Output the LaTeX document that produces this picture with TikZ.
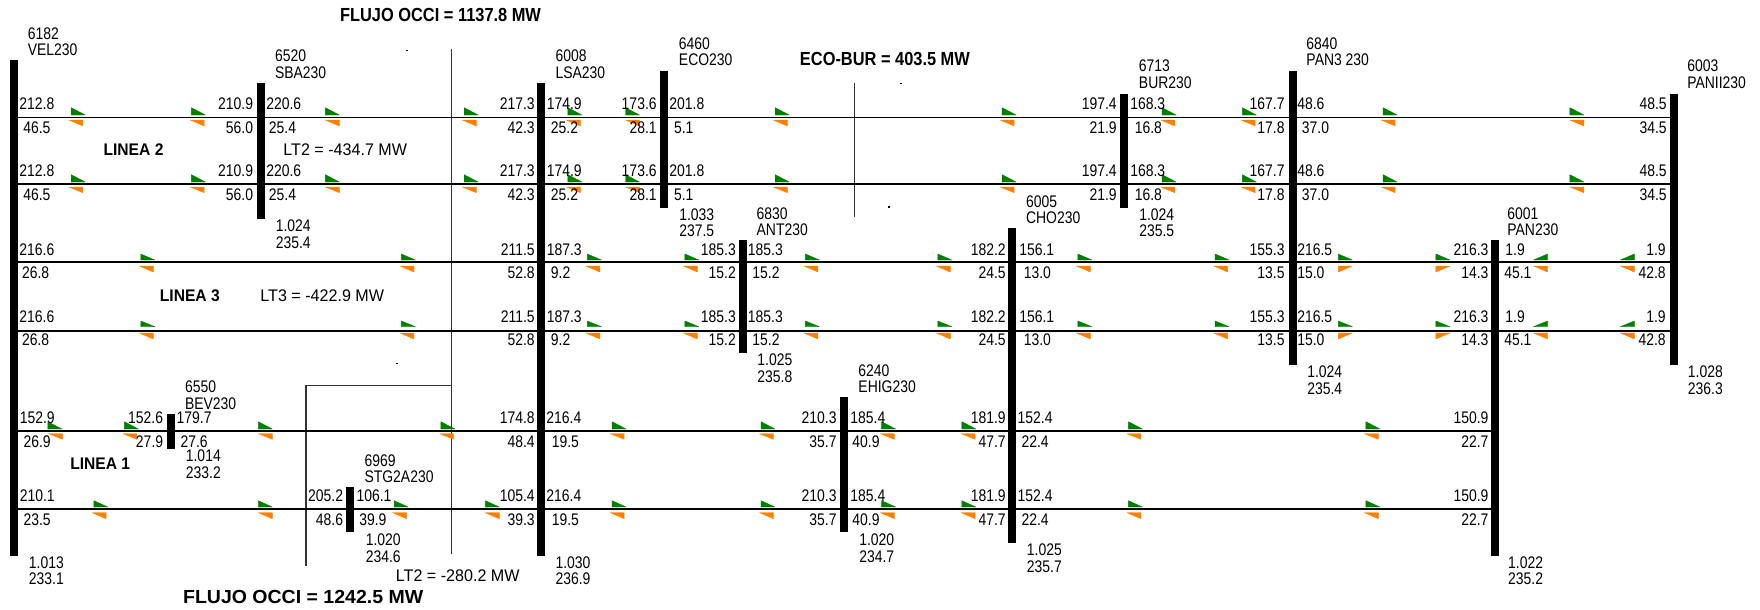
\documentclass[tikz,border=0pt]{standalone}
\usepackage{fontspec}
\setmainfont[FakeStretch=0.83]{Liberation Sans}
\newfontfamily\fnote[FakeStretch=0.958]{Liberation Sans}
\newfontfamily\fline[FakeStretch=0.93]{Liberation Sans}
\newfontfamily\ftop[FakeStretch=0.866]{Liberation Sans}
\newfontfamily\fbot[FakeStretch=1.03]{Liberation Sans}
\newcounter{lc}
\definecolor{orangeflow}{RGB}{255,128,0}
\definecolor{greenflow}{RGB}{0,128,0}
\tikzset{
  bus/.style={draw=none,fill=black,rectangle,inner sep=0pt,minimum width=6pt},
  tline/.style={draw=black,line width=1.2pt},
  cutline/.style={draw=black!80,line width=0.8pt},
  lab/.style={inner sep=0pt,font=\fontsize{12.6}{12.6}\selectfont},
  notelab/.style={inner sep=0pt,font=\fontsize{12.6}{12.6}\fnote\selectfont},
  blab/.style={inner sep=0pt,font=\fontsize{12.6}{12.6}\fline\bfseries\selectfont},
  tlab/.style={inner sep=0pt,font=\fontsize{14.2}{14.2}\ftop\bfseries\selectfont},
  tlabwide/.style={inner sep=0pt,font=\fontsize{14.2}{14.2}\fbot\bfseries\selectfont},
  gflow/.style={fill=greenflow,draw=greenflow,line width=0.3pt,line join=round},
  oflow/.style={fill=orangeflow,draw=orangeflow,line width=0.3pt,line join=round},
}
\newcommand\busnode[4]{\node[bus,minimum height={(#4-#3)*0.75pt}] (#1) at (#2,{(#3+#4)/2}) {};}
\newcommand\tw[3]{\stepcounter{lc}\node[lab,anchor=base west] (t\thelc) at (#1,#2) {#3};}
\newcommand\te[3]{\stepcounter{lc}\node[lab,anchor=base east] (t\thelc) at (#1,#2) {#3};}
\newcommand\twol[5]{\tw{#1}{#2}{#4}\tw{#1}{#3}{#5}}
% flows: green left / orange left; gt gb ot ob
\newcommand\flows[5]{\foreach \g/\o in {#5}{%
  \path[gflow] (\g,#1) -- (\g,#2) -- (\g+14,#2) -- cycle;
  \path[oflow] (\o,#3) -- (\o+14,#3) -- (\o+14,#4) -- cycle;}}
\newcommand\rowtop[2]{%
  \tw{19.1}{#1}{212.8}\te{253.3}{#1}{210.9}\tw{266}{#1}{220.6}\te{535}{#1}{217.3}\tw{546.5}{#1}{174.9}\te{656.9}{#1}{173.6}\tw{669.2}{#1}{201.8}\te{1116.9}{#1}{197.4}\tw{1130}{#1}{168.3}\te{1284.8}{#1}{167.7}\tw{1297}{#1}{48.6}\te{1667}{#1}{48.5}%
  \tw{23}{#2}{46.5}\te{253.3}{#2}{56.0}\tw{268.7}{#2}{25.4}\te{535}{#2}{42.3}\tw{550.7}{#2}{25.2}\te{656.9}{#2}{28.1}\tw{673.8}{#2}{5.1}\te{1116.9}{#2}{21.9}\tw{1134.5}{#2}{16.8}\te{1284.8}{#2}{17.8}\tw{1301.6}{#2}{37.0}\te{1667}{#2}{34.5}}
\newcommand\rowmid[2]{%
  \tw{19.1}{#1}{216.6}\te{535}{#1}{211.5}\tw{546.5}{#1}{187.3}\te{736.1}{#1}{185.3}\tw{747.6}{#1}{185.3}\te{1005.9}{#1}{182.2}\tw{1019}{#1}{156.1}\te{1284.8}{#1}{155.3}\tw{1297}{#1}{216.5}\te{1488.7}{#1}{216.3}\tw{1505.2}{#1}{1.9}\te{1665.9}{#1}{1.9}%
  \tw{21.8}{#2}{26.8}\te{535}{#2}{52.8}\tw{550.7}{#2}{9.2}\te{736.1}{#2}{15.2}\tw{752.2}{#2}{15.2}\te{1005.9}{#2}{24.5}\tw{1023.5}{#2}{13.0}\te{1284.8}{#2}{13.5}\tw{1297}{#2}{15.0}\te{1488.7}{#2}{14.3}\tw{1504}{#2}{45.1}\te{1665.9}{#2}{42.8}}
\newcommand\rowlowcommon[2]{%
  \tw{546.1}{#1}{216.4}\te{836.8}{#1}{210.3}\tw{850.2}{#1}{185.4}\te{1005.9}{#1}{181.9}\tw{1017.4}{#1}{152.4}\te{1488.7}{#1}{150.9}%
  \tw{551.5}{#2}{19.5}\te{836.8}{#2}{35.7}\tw{852.1}{#2}{40.9}\te{1005.9}{#2}{47.7}\tw{1021.3}{#2}{22.4}\te{1488.7}{#2}{22.7}}
\newcommand\midflows[4]{%
  \flows{#1}{#2}{#3}{#4}{140.8/139.3,401.4/400,587.4/585.9,684.9/683.3,805.4/803.9,937.8/936.3,1077.9/1076.4,1215.1/1213.6}
  % orange with vertical left edge
  \foreach \x in {1338.3,1435.9}{%
    \path[gflow] (\x,#1) -- (\x,#2) -- (\x+14,#2) -- cycle;
    \path[oflow] (\x,#3) -- (\x+14,#3) -- (\x,#4) -- cycle;}
  % green with vertical right edge
  \foreach \x in {1533.5,1620.4}{%
    \path[gflow] (\x+14,#1) -- (\x+14,#2) -- (\x,#2) -- cycle;
    \path[oflow] (\x,#3) -- (\x+14,#3) -- (\x+14,#4) -- cycle;}}
\begin{document}
\begin{tikzpicture}[x=0.75pt,y=-0.75pt]
\useasboundingbox (0,0) rectangle (1760,610);
% buses
\busnode{vel}{13.8}{60}{555.7}
\busnode{sba}{260.6}{83}{218.7}
\busnode{lsa}{540.8}{83}{555.7}
\busnode{eco}{664.2}{71}{207.7}
\busnode{bur}{1124.2}{93.7}{207.7}
\busnode{ant}{743.4}{240}{352.7}
\busnode{cho}{1012.4}{228}{543.3}
\busnode{ehig}{843.7}{397}{532.3}
\busnode{bev}{170.7}{413.7}{448.7}
\busnode{stg}{350.2}{487}{532.3}
\busnode{panc}{1292.8}{71}{364.7}
\busnode{pan}{1494.5}{240}{555.7}
\busnode{panii}{1673.6}{93.7}{364.7}
% row heights
\coordinate (r1) at (0,117.3);
\coordinate (r2) at (0,184);
\coordinate (r3) at (0,262);
\coordinate (r4) at (0,330.7);
\coordinate (r5) at (0,431);
\coordinate (r6) at (0,509);
% cut lines
\coordinate (ca) at (451.2,49.3);
\coordinate (cb) at (451.2,554);
\coordinate (cc) at (451.2,385.7);
\coordinate (cd) at (306,385.7);
\coordinate (ce) at (306,565.7);
\coordinate (cf) at (854.8,83);
\coordinate (cg) at (854.8,216.7);
\draw[cutline] (ca) -- (cb);
\draw[cutline] (cc) -- (cd) -- (ce);
\draw[cutline] (cf) -- (cg);
\fill[black] (406.4,49.6) rectangle (408.4,51);
\fill[black] (899.7,83) rectangle (901.7,84.4);
\fill[black] (887.5,206.4) rectangle (889.5,207.8);
\fill[black] (395.5,363) rectangle (397.5,364.4);
% transmission lines
\foreach \r in {r1,r2}{
  \draw[tline] (vel |- \r) -- (sba |- \r);
  \draw[tline] (sba |- \r) -- (lsa |- \r);
  \draw[tline] (lsa |- \r) -- (eco |- \r);
  \draw[tline] (eco |- \r) -- (bur |- \r);
  \draw[tline] (bur |- \r) -- (panc |- \r);
  \draw[tline] (panc |- \r) -- (panii |- \r);
}
\foreach \r in {r3,r4}{
  \draw[tline] (vel |- \r) -- (lsa |- \r);
  \draw[tline] (lsa |- \r) -- (ant |- \r);
  \draw[tline] (ant |- \r) -- (cho |- \r);
  \draw[tline] (cho |- \r) -- (panc |- \r);
  \draw[tline] (panc |- \r) -- (pan |- \r);
  \draw[tline] (pan |- \r) -- (panii |- \r);
}
\draw[tline] (vel |- r5) -- (bev |- r5);
\draw[tline] (bev |- r5) -- (lsa |- r5);
\draw[tline] (vel |- r6) -- (stg |- r6);
\draw[tline] (stg |- r6) -- (lsa |- r6);
\foreach \r in {r5,r6}{
  \draw[tline] (lsa |- \r) -- (ehig |- \r);
  \draw[tline] (ehig |- \r) -- (cho |- \r);
  \draw[tline] (cho |- \r) -- (pan |- \r);
}
% flow triangles
\flows{107.7}{115}{120}{126}{71.2/68.9,191.4/190.2,325.3/325.3,464.2/462.3,567.9/566.4,625.5/625.5,775.2/773.3,1002.1/1000.2,1162.1/1160.9,1242.3/1241.1,1383.1/1381.2,1569.9/1569.9}
\flows{174.7}{182}{187}{192.7}{71.2/68.9,191.4/190.2,325.3/325.3,464.2/462.3,567.9/566.4,625.5/625.5,775.2/773.3,1002.1/1000.2,1162.1/1160.9,1242.3/1241.1,1383.1/1381.2,1569.9/1569.9}
\midflows{254}{260}{266}{272}
\midflows{321}{326.7}{333}{339}
\flows{421.7}{429}{433.7}{439.3}{47.8/48.6,124.4/122.8,258.3/258.3,440.9/439.7,612.1/610.2,761/759.5,881.6/880.4,961.9/961.2,1128.4/1126.9,1365.9/1364.4}
\flows{500.7}{507}{512.7}{518.7}{93.8/92.2,258.3/258.3,394.2/392.6,485.3/485.3,612.1/610.2,761/759.5,881.6/880.4,961.9/961.2,1128.4/1126.9,1365.9/1364.4}
% flow values
\rowtop{109.3}{133.3}
\rowtop{176}{200}
\rowmid{255.3}{278.3}
\rowmid{322.3}{345.3}
\tw{19.5}{423.3}{152.9}\te{163.4}{423.3}{152.6}\tw{176.4}{423.3}{179.7}\te{535}{423.3}{174.8}
\tw{23.3}{447.3}{26.9}\te{163.4}{447.3}{27.9}\tw{180.3}{447.3}{27.6}\te{535}{447.3}{48.4}
\rowlowcommon{423.3}{447.3}
\tw{19.5}{501.3}{210.1}\te{343.3}{501.3}{205.2}\tw{356.3}{501.3}{106.1}\te{535}{501.3}{105.4}
\tw{23.3}{525.3}{23.5}\te{343.3}{525.3}{48.6}\tw{359}{525.3}{39.9}\te{535}{525.3}{39.3}
\rowlowcommon{501.3}{525.3}
% bus names
\twol{27.6}{39.3}{56}{6182}{VEL230}
\twol{274.8}{62}{78.7}{6520}{SBA230}
\twol{555.3}{62}{78.7}{6008}{LSA230}
\twol{678.7}{49.3}{66}{6460}{ECO230}
\twol{1138.7}{72}{88.7}{6713}{BUR230}
\twol{1306.2}{49.3}{66}{6840}{PAN3 230}
\twol{1687}{72}{88.7}{6003}{PANII230}
\twol{756.4}{219}{235}{6830}{ANT230}
\twol{1025.8}{207.3}{223.3}{6005}{CHO230}
\twol{1507.1}{219}{235}{6001}{PAN230}
\twol{858.2}{376.3}{392.3}{6240}{EHIG230}
\twol{184.8}{392.3}{409}{6550}{BEV230}
\twol{364.3}{466}{482}{6969}{STG2A230}
% bus voltages
\twol{28.7}{568.3}{584}{1.013}{233.1}
\twol{275.5}{231.3}{248}{1.024}{235.4}
\twol{555.3}{568.3}{584}{1.030}{236.9}
\twol{679}{220}{236.7}{1.033}{237.5}
\twol{1139}{220}{236.7}{1.024}{235.5}
\twol{757.2}{365}{382}{1.025}{235.8}
\twol{1026.6}{555}{572}{1.025}{235.7}
\twol{859}{545}{562}{1.020}{234.7}
\twol{185.6}{461.3}{478.3}{1.014}{233.2}
\twol{365.5}{545}{562}{1.020}{234.6}
\twol{1307}{377.3}{394}{1.024}{235.4}
\twol{1687.7}{377.3}{394}{1.028}{236.3}
\twol{1507.9}{568.3}{584}{1.022}{235.2}
% interface flows
\node[notelab,anchor=base west] (n1) at (283.2,155) {LT2 = -434.7 MW};
\node[notelab,anchor=base west] (n2) at (260.2,301) {LT3 = -422.9 MW};
\node[notelab,anchor=base west] (n3) at (395.7,581.3) {LT2 = -280.2 MW};
\node[blab,anchor=base west] (l2) at (103.3,155) {LINEA 2};
\node[blab,anchor=base west] (l3) at (159.6,301) {LINEA 3};
\node[blab,anchor=base west] (l1) at (70,469) {LINEA 1};
\node[tlab,anchor=base west] (f1) at (339.8,22) {FLUJO OCCI = 1137.8 MW};
\node[tlab,anchor=base west] (f2) at (799.7,65.7) {ECO-BUR = 403.5 MW};
\node[tlabwide,anchor=base west] (f3) at (182.9,603.3) {FLUJO OCCI = 1242.5 MW};
\end{tikzpicture}
\end{document}
